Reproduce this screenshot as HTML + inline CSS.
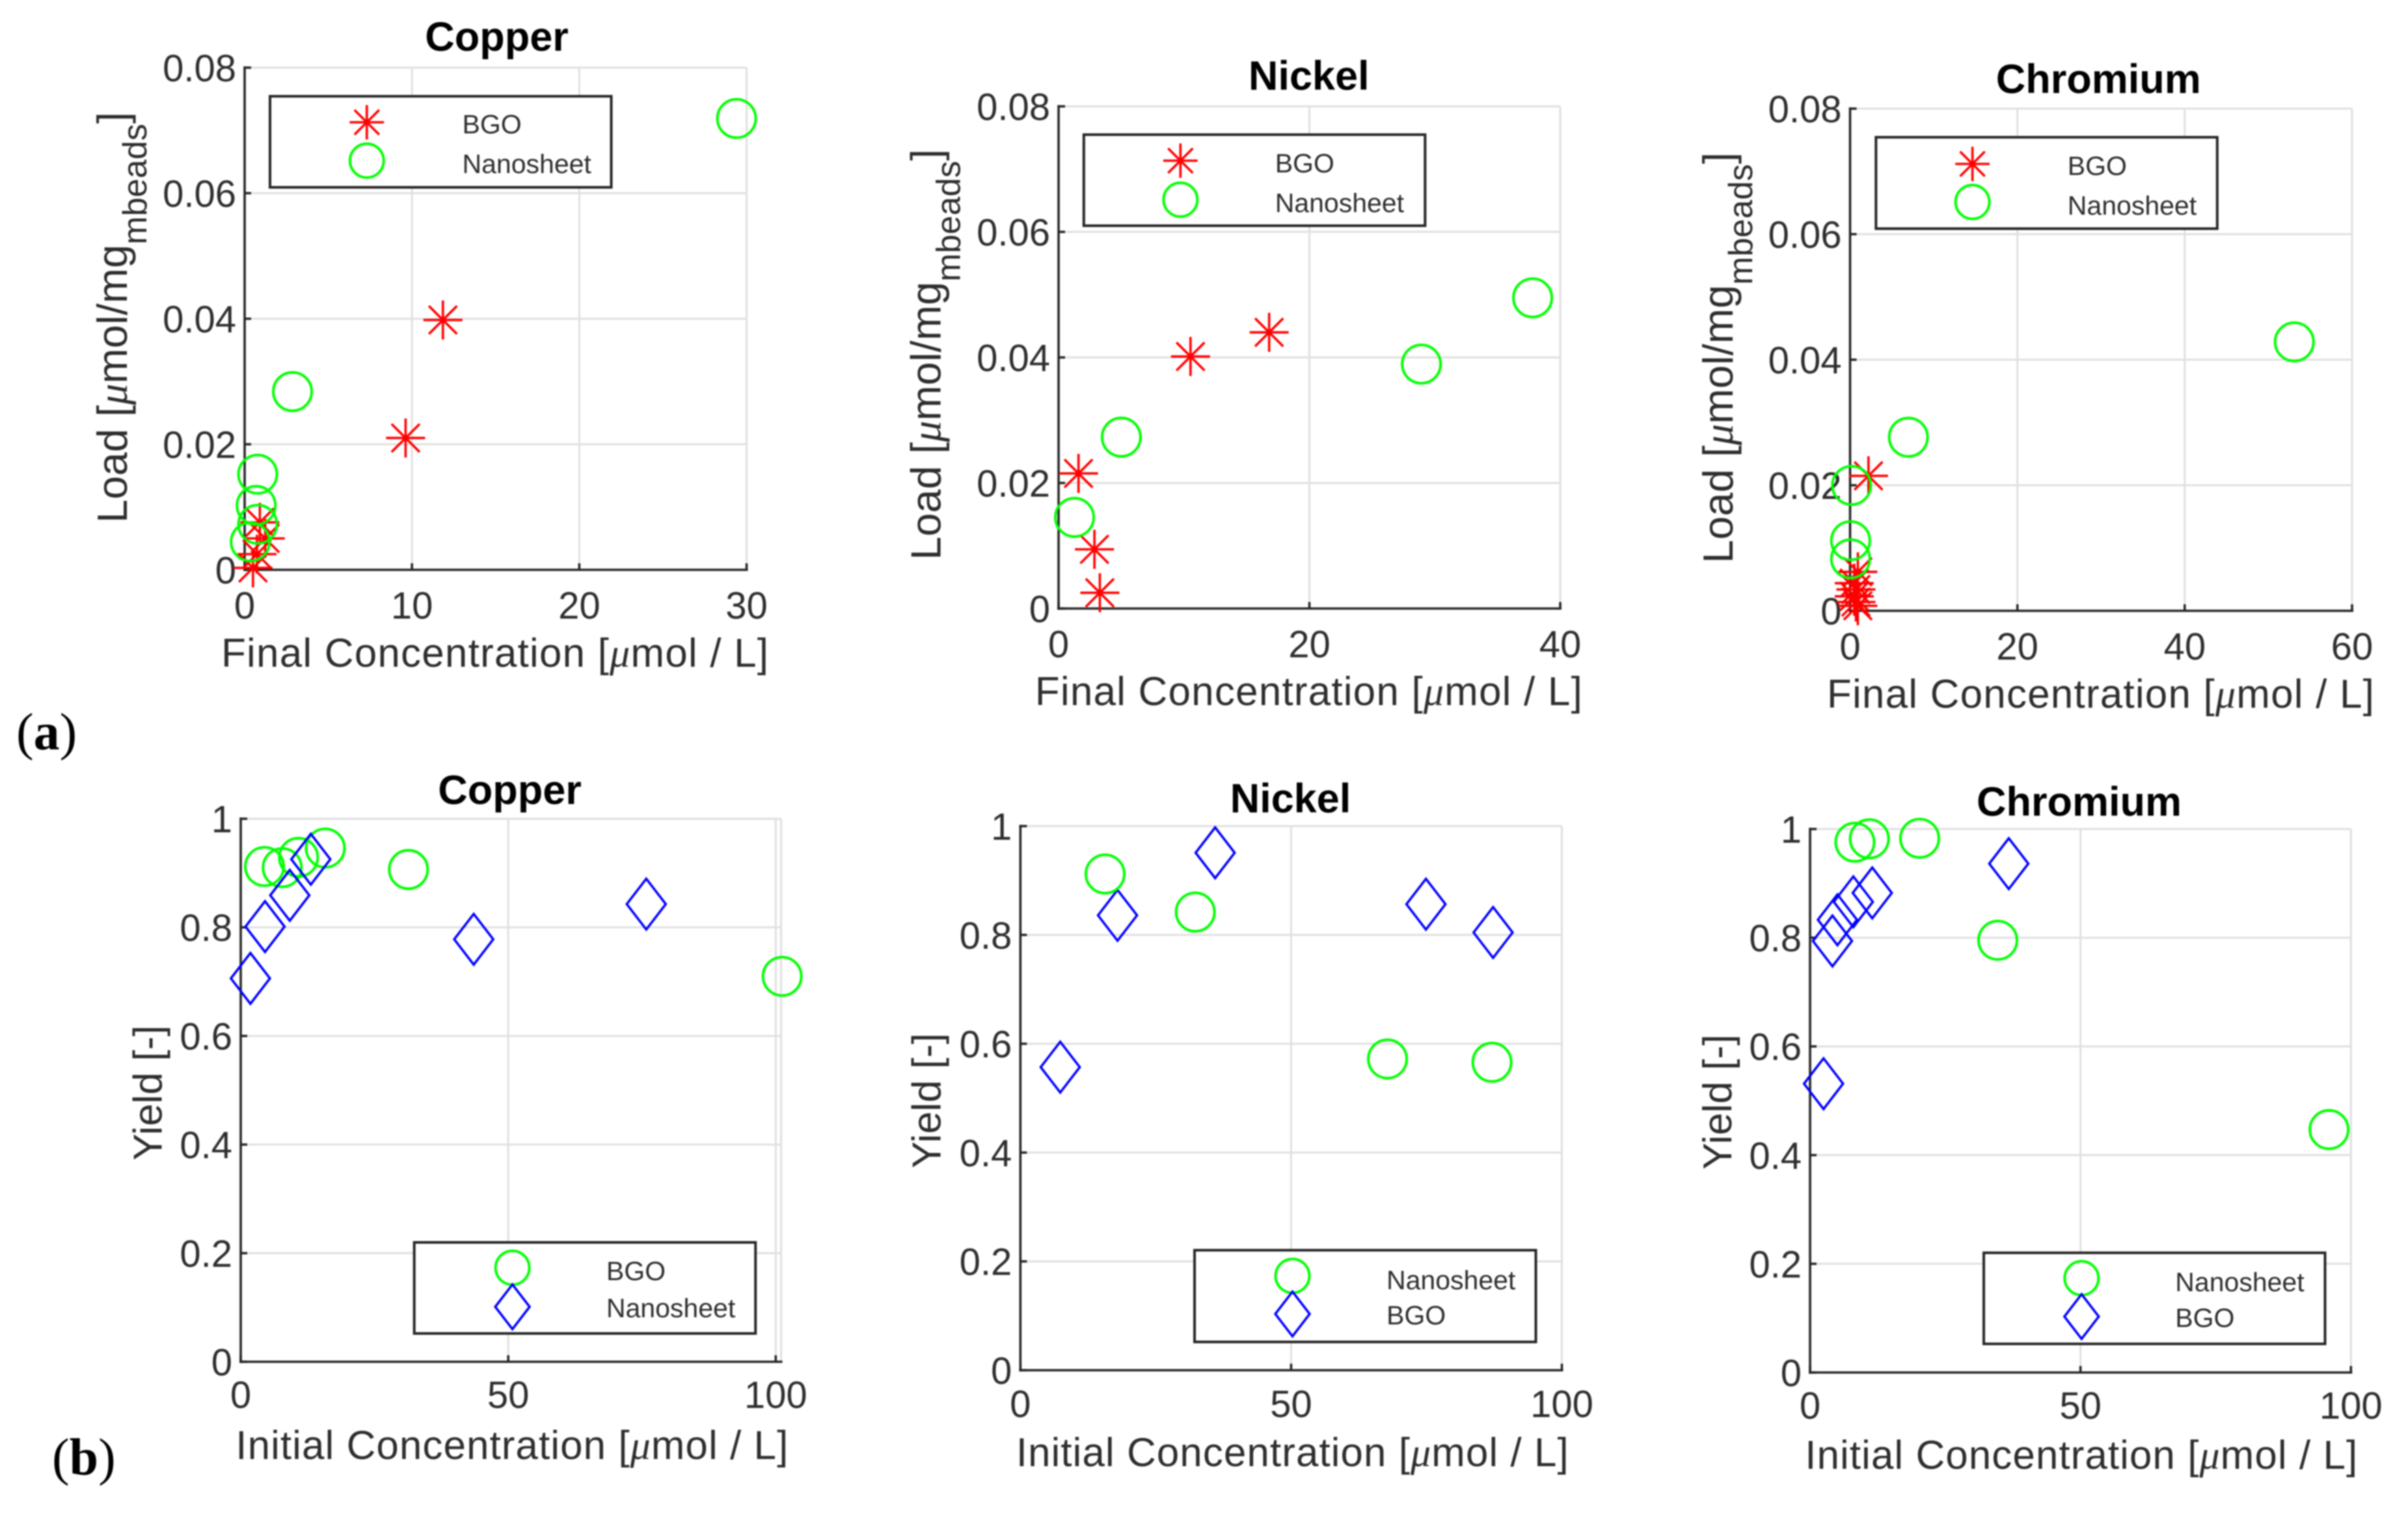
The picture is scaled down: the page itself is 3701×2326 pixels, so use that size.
<!DOCTYPE html>
<html lang="en">
<head>
<meta charset="utf-8">
<title>Load and yield charts for copper, nickel and chromium</title>
<style>
html,body{margin:0;padding:0;background:#fff;width:3701px;height:2326px;overflow:hidden}
svg{display:block;filter:blur(1px)}
text{font-family:"Liberation Sans",sans-serif;fill:#2e2e2e}
.title{font-size:63px;font-weight:bold;fill:#000;text-anchor:middle}
.axis-label{font-size:62px}
.y-load{font-size:65px}
.legend-text{font-size:41px}
.mu{font-family:"Liberation Serif",serif;font-style:italic}
.panel-tag{font-family:"Liberation Serif",serif;font-size:80px;fill:#000}
.legend-box{fill:#fff;stroke:#262626;stroke-width:4}
</style>
</head>
<body>
<svg id="figure" xmlns="http://www.w3.org/2000/svg" width="3701" height="2326" viewBox="0 0 3701 2326">
<rect x="0" y="0" width="3701" height="2326" fill="#fff"/>
<g id="plots"></g>

<text class="title" x="763.5" y="78">Copper</text>
<text class="title" x="2011.7" y="138">Nickel</text>
<text class="title" x="3225.3" y="143">Chromium</text>
<text class="title" x="783.5" y="1236">Copper</text>
<text class="title" x="1983.4" y="1249">Nickel</text>
<text class="title" x="3195.5" y="1254">Chromium</text>

<text class="axis-label" x="340" y="1025" textLength="841">Final Concentration [<tspan class="mu">μ</tspan>mol / L]</text>
<text class="axis-label" x="1590.8" y="1084" textLength="841">Final Concentration [<tspan class="mu">μ</tspan>mol / L]</text>
<text class="axis-label" x="2807.9" y="1088" textLength="841">Final Concentration [<tspan class="mu">μ</tspan>mol / L]</text>
<text class="axis-label" x="362.3" y="2243" textLength="849">Initial Concentration [<tspan class="mu">μ</tspan>mol / L]</text>
<text class="axis-label" x="1561.7" y="2254" textLength="849">Initial Concentration [<tspan class="mu">μ</tspan>mol / L]</text>
<text class="axis-label" x="2774.2" y="2258" textLength="849">Initial Concentration [<tspan class="mu">μ</tspan>mol / L]</text>

<text class="axis-label y-load" transform="translate(195 804) rotate(-90)" textLength="632">Load [<tspan class="mu">μ</tspan>mol/mg<tspan dy="30" font-size="52">mbeads</tspan><tspan dy="-30">]</tspan></text>
<text class="axis-label y-load" transform="translate(1445.4 861) rotate(-90)" textLength="632">Load [<tspan class="mu">μ</tspan>mol/mg<tspan dy="30" font-size="52">mbeads</tspan><tspan dy="-30">]</tspan></text>
<text class="axis-label y-load" transform="translate(2663 866) rotate(-90)" textLength="632">Load [<tspan class="mu">μ</tspan>mol/mg<tspan dy="30" font-size="52">mbeads</tspan><tspan dy="-30">]</tspan></text>
<text class="axis-label" transform="translate(248.7 1784) rotate(-90)">Yield [-]</text>
<text class="axis-label" transform="translate(1445.4 1796) rotate(-90)">Yield [-]</text>
<text class="axis-label" transform="translate(2660.8 1798) rotate(-90)">Yield [-]</text>

<g>
<rect class="legend-box" x="415" y="148" width="524.5" height="140"/>
<text class="legend-text" x="710.5" y="205">BGO</text>
<text class="legend-text" x="710.5" y="266">Nanosheet</text>
</g>
<g>
<rect class="legend-box" x="1665.8" y="207" width="524.5" height="140"/>
<text class="legend-text" x="1959.7" y="265">BGO</text>
<text class="legend-text" x="1959.7" y="326">Nanosheet</text>
</g>
<g>
<rect class="legend-box" x="2883.3" y="211" width="524.5" height="140.5"/>
<text class="legend-text" x="3177.8" y="269">BGO</text>
<text class="legend-text" x="3177.8" y="330">Nanosheet</text>
</g>
<g>
<rect class="legend-box" x="636.7" y="1910" width="524.5" height="140"/>
<text class="legend-text" x="931.9" y="1968">BGO</text>
<text class="legend-text" x="931.9" y="2025">Nanosheet</text>
</g>
<g>
<rect class="legend-box" x="1836" y="1922" width="524.5" height="141"/>
<text class="legend-text" x="2131" y="1982">Nanosheet</text>
<text class="legend-text" x="2131" y="2036">BGO</text>
</g>
<g>
<rect class="legend-box" x="3049" y="1926" width="524.5" height="140"/>
<text class="legend-text" x="3343.3" y="1985">Nanosheet</text>
<text class="legend-text" x="3343.3" y="2040">BGO</text>
</g>
<g id="legend-markers"></g>

<text class="panel-tag" x="25" y="1152">(<tspan font-weight="bold">a</tspan>)</text>
<text class="panel-tag" x="80" y="2267">(<tspan font-weight="bold">b</tspan>)</text>
</svg>

<script>
// Axis ticks
const loadTickValues = [0, 0.02, 0.04, 0.06, 0.08];
const loadTickLabels = ['0', '0.02', '0.04', '0.06', '0.08'];
const yieldTickValues = [0, 0.2, 0.4, 0.6, 0.8, 1];
const yieldTickLabels = ['0', '0.2', '0.4', '0.6', '0.8', '1'];
const copperFinalTicks = [0, 10, 20, 30];
const nickelFinalTicks = [0, 20, 40];
const chromiumFinalTicks = [0, 20, 40, 60];
const initialTicks = [0, 50, 100];

// Copper: load against final concentration
const copperLoadBgoX = [11.85, 9.62, 1.23, 0.91, 0.74, 0.5];
const copperLoadBgoY = [0.0398, 0.021, 0.005, 0.00756, 0.0025, 0.0003];
const copperLoadNanoX = [29.4, 2.86, 0.78, 0.69, 0.78, 0.34];
const copperLoadNanoY = [0.0719, 0.0284, 0.01523, 0.01026, 0.00725, 0.00446];

// Nickel: load against final concentration
const nickelLoadBgoX = [16.79, 10.52, 1.59, 2.86, 3.29];
const nickelLoadBgoY = [0.044, 0.04015, 0.02152, 0.00943, 0.00251];
const nickelLoadNanoX = [37.8, 28.93, 5.0, 1.27];
const nickelLoadNanoY = [0.0495, 0.03894, 0.0273, 0.01452];

// Chromium: load against final concentration
const chromiumLoadBgoX = [2.2, 0.93, 0.5, 0.7, 0.5, 0.93, 0.7];
const chromiumLoadBgoY = [0.0215, 0.0062, 0.0044, 0.0034, 0.0023, 0.0008, 0.0014];
const chromiumLoadNanoX = [53.1, 6.97, 0.18, 0.06, 0.06];
const chromiumLoadNanoY = [0.04284, 0.02765, 0.01998, 0.01117, 0.00828];

// Copper: yield against initial concentration (legend labels as printed)
const copperYieldCircleX = [4.44, 7.76, 10.8, 15.8, 31.35, 101.2];
const copperYieldCircleY = [0.912, 0.91, 0.929, 0.946, 0.9066, 0.7098];
const copperYieldDiamondX = [1.81, 4.54, 9.17, 13.1, 43.55, 75.8];
const copperYieldDiamondY = [0.706, 0.8014, 0.859, 0.9254, 0.778, 0.8428];

// Nickel: yield against initial concentration
const nickelYieldCircleX = [15.64, 32.3, 67.8, 87.1];
const nickelYieldCircleY = [0.912, 0.842, 0.572, 0.566];
const nickelYieldDiamondX = [7.36, 17.94, 35.97, 74.9, 87.3];
const nickelYieldDiamondY = [0.557, 0.836, 0.951, 0.8565, 0.8045];

// Chromium: yield against initial concentration
const chromiumYieldCircleX = [8.29, 10.96, 20.26, 34.7, 95.95];
const chromiumYieldCircleY = [0.9758, 0.982, 0.983, 0.7953, 0.447];
const chromiumYieldDiamondX = [2.49, 4.14, 5.06, 8.0, 11.5, 36.74];
const chromiumYieldDiamondY = [0.5314, 0.794, 0.833, 0.866, 0.8824, 0.9363];

const NS = 'http://www.w3.org/2000/svg';
const AXIS_COLOR = '#262626';
const GRID_COLOR = '#e0e0e0';
const RED = '#ff0000';
const GREEN = '#00ff00';
const BLUE = '#0000ff';

const panels = [
  {name: 'copper-load', left: 376, right: 1147.5, top: 104, bottom: 876, xMax: 30, yMax: 0.08,
   xTicks: copperFinalTicks, yValues: loadTickValues, yLabels: loadTickLabels, xLabelOffset: 54,
   series: [['star', copperLoadBgoX, copperLoadBgoY], ['circle', copperLoadNanoX, copperLoadNanoY]],
   legendX: 563.8, legendY: [188, 247], legendKinds: ['star', 'circle']},
  {name: 'nickel-load', left: 1627, right: 2398, top: 163.5, bottom: 935.5, xMax: 40, yMax: 0.08,
   xTicks: nickelFinalTicks, yValues: loadTickValues, yLabels: loadTickLabels, xLabelOffset: 54,
   series: [['star', nickelLoadBgoX, nickelLoadBgoY], ['circle', nickelLoadNanoX, nickelLoadNanoY]],
   legendX: 1814.3, legendY: [247, 307], legendKinds: ['star', 'circle']},
  {name: 'chromium-load', left: 2843.5, right: 3615, top: 167, bottom: 939, xMax: 60, yMax: 0.08,
   xTicks: chromiumFinalTicks, yValues: loadTickValues, yLabels: loadTickLabels, xLabelOffset: 54,
   series: [['star', chromiumLoadBgoX, chromiumLoadBgoY], ['circle', chromiumLoadNanoX, chromiumLoadNanoY]],
   legendX: 3031.6, legendY: [252, 310.5], legendKinds: ['star', 'circle']},
  {name: 'copper-yield', left: 370, right: 1200.5, top: 1258.7, bottom: 2093.5, xMax: 101, yMax: 1,
   xTicks: initialTicks, yValues: yieldTickValues, yLabels: yieldTickLabels, xLabelOffset: 50,
   series: [['circle', copperYieldCircleX, copperYieldCircleY], ['diamond', copperYieldDiamondX, copperYieldDiamondY]],
   legendX: 787.6, legendY: [1949, 2009], legendKinds: ['circle', 'diamond']},
  {name: 'nickel-yield', left: 1568.3, right: 2400.5, top: 1270, bottom: 2106.5, xMax: 100, yMax: 1,
   xTicks: initialTicks, yValues: yieldTickValues, yLabels: yieldTickLabels, xLabelOffset: 51,
   series: [['diamond', nickelYieldDiamondX, nickelYieldDiamondY], ['circle', nickelYieldCircleX, nickelYieldCircleY]],
   legendX: 1986.5, legendY: [1961.5, 2020], legendKinds: ['circle', 'diamond']},
  {name: 'chromium-yield', left: 2782, right: 3613.3, top: 1274.5, bottom: 2110, xMax: 100, yMax: 1,
   xTicks: initialTicks, yValues: yieldTickValues, yLabels: yieldTickLabels, xLabelOffset: 50,
   series: [['diamond', chromiumYieldDiamondX, chromiumYieldDiamondY], ['circle', chromiumYieldCircleX, chromiumYieldCircleY]],
   legendX: 3199.3, legendY: [1965, 2024], legendKinds: ['circle', 'diamond']}
];

function linearScale(domainMax, rangeStart, rangeEnd) {
  return function (v) { return rangeStart + (v / domainMax) * (rangeEnd - rangeStart); };
}

function line(parent, x1, y1, x2, y2, color, width) {
  const el = document.createElementNS(NS, 'line');
  el.setAttribute('x1', x1);
  el.setAttribute('y1', y1);
  el.setAttribute('x2', x2);
  el.setAttribute('y2', y2);
  el.setAttribute('stroke', color);
  el.setAttribute('stroke-width', width);
  parent.appendChild(el);
  return el;
}

function drawStar(parent, cx, cy, r) {
  const g = document.createElementNS(NS, 'g');
  
  
  const d = r * 0.72;
  line(g, cx - r, cy, cx + r, cy, RED, 3.6);
  line(g, cx, cy - r, cx, cy + r, RED, 3.6);
  line(g, cx - d, cy - d, cx + d, cy + d, RED, 3.6);
  line(g, cx - d, cy + d, cx + d, cy - d, RED, 3.6);
  parent.appendChild(g);
}

function drawCircle(parent, cx, cy, r) {
  const el = document.createElementNS(NS, 'circle');
  
  
  el.setAttribute('cx', cx);
  el.setAttribute('cy', cy);
  el.setAttribute('r', r);
  el.setAttribute('fill', 'none');
  el.setAttribute('stroke', GREEN);
  el.setAttribute('stroke-width', 4);
  parent.appendChild(el);
}

function drawDiamond(parent, cx, cy, hw, hh) {
  const el = document.createElementNS(NS, 'polygon');
  
  
  el.setAttribute('points', (cx - hw) + ',' + cy + ' ' + cx + ',' + (cy - hh) + ' ' + (cx + hw) + ',' + cy + ' ' + cx + ',' + (cy + hh));
  el.setAttribute('fill', 'none');
  el.setAttribute('stroke', BLUE);
  el.setAttribute('stroke-width', 3.6);
  parent.appendChild(el);
}

function drawMarker(parent, kind, cx, cy, scale) {
  if (kind === 'star') drawStar(parent, cx, cy, 30 * scale);
  if (kind === 'circle') drawCircle(parent, cx, cy, 29.5 * scale);
  if (kind === 'diamond') drawDiamond(parent, cx, cy, 30 * scale, 39 * scale);
}

function tickText(parent, value, x, y, anchor) {
  const el = document.createElementNS(NS, 'text');
  
  
  el.setAttribute('x', x);
  el.setAttribute('y', y);
  el.setAttribute('font-size', 58);
  el.setAttribute('text-anchor', anchor);
  el.textContent = value;
  parent.appendChild(el);
}

const plotRoot = document.getElementById('plots');
const legendRoot = document.getElementById('legend-markers');

panels.forEach(function (p) {
  const x = linearScale(p.xMax, p.left, p.right);
  const y = linearScale(p.yMax, p.bottom, p.top);
  const g = document.createElementNS(NS, 'g');
  
  
  plotRoot.appendChild(g);

  const grid = document.createElementNS(NS, 'g');
  
  
  g.appendChild(grid);
  p.xTicks.forEach(function (t) {
    if (t > 0) line(grid, x(t), p.top, x(t), p.bottom, GRID_COLOR, 3);
  });
  p.yValues.forEach(function (t) {
    if (t > 0) line(grid, p.left, y(t), p.right, y(t), GRID_COLOR, 3);
  });
  line(grid, p.left, p.top, p.right, p.top, GRID_COLOR, 3);
  line(grid, p.right, p.top, p.right, p.bottom, GRID_COLOR, 3);

  const axes = document.createElementNS(NS, 'g');
  
  
  g.appendChild(axes);
  line(axes, p.left, p.top - 2, p.left, p.bottom + 2, AXIS_COLOR, 3.6);
  line(axes, p.left - 2, p.bottom, p.right + 2, p.bottom, AXIS_COLOR, 3.6);
  p.xTicks.forEach(function (t) {
    line(axes, x(t), p.bottom, x(t), p.bottom - 10, AXIS_COLOR, 3.6);
    tickText(axes, String(t), x(t), p.bottom + p.xLabelOffset + 21, 'middle');
  });
  p.yValues.forEach(function (t, i) {
    line(axes, p.left, y(t), p.left + 10, y(t), AXIS_COLOR, 3.6);
    tickText(axes, p.yLabels[i], p.left - 13, y(t) + 21, 'end');
  });

  p.series.forEach(function (s) {
    const kind = s[0];
    const xs = s[1];
    const ys = s[2];
    const sg = document.createElementNS(NS, 'g');
    
    
    g.appendChild(sg);
    xs.forEach(function (v, i) {
      drawMarker(sg, kind, x(v), y(ys[i]), 1);
    });
  });

  p.legendKinds.forEach(function (kind, i) {
    drawMarker(legendRoot, kind, p.legendX, p.legendY[i], 0.88);
  });
});
</script>
</body>
</html>
